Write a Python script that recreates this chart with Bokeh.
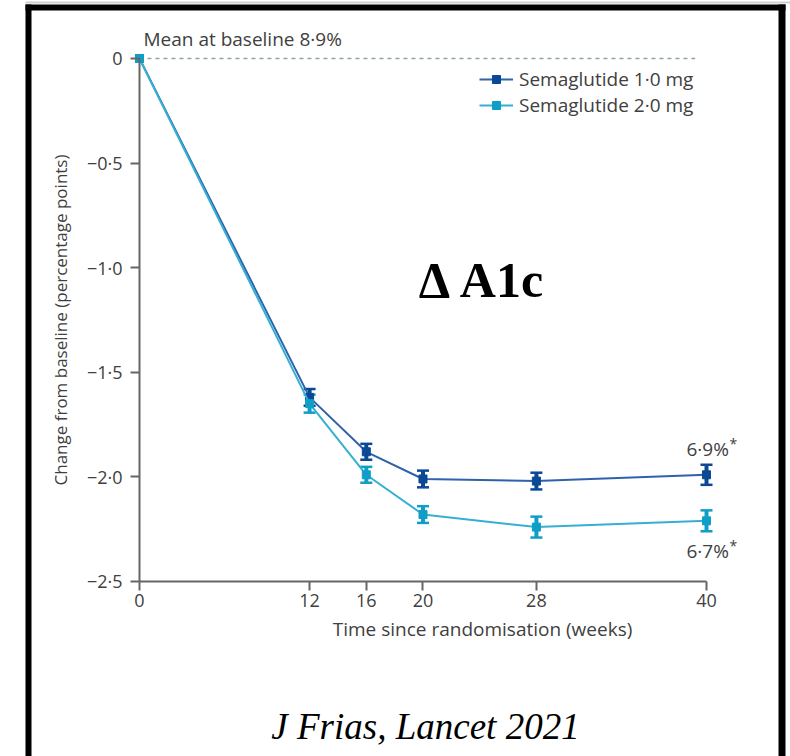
from bokeh.plotting import figure
from bokeh.models import (ColumnDataSource, Range1d, FixedTicker, Whisker, TeeHead,
                          Label, Legend, LegendItem, BoxAnnotation)
from bokeh.embed import file_html
from bokeh.resources import INLINE

# ---------------- data ----------------
weeks = [0, 12, 16, 20, 28, 40]
sema1_mean = [0.0, -1.62, -1.88, -2.01, -2.02, -1.99]
sema1_err = [0.0, 0.040, 0.038, 0.040, 0.040, 0.048]
sema2_mean = [0.0, -1.65, -1.99, -2.18, -2.24, -2.21]
sema2_err = [0.0, 0.043, 0.038, 0.040, 0.050, 0.050]
series_names = ["Semaglutide 1·0 mg", "Semaglutide 2·0 mg"]
end_labels = ["6·9%", "6·7%"]
end_mark = "*"
x_ticks = [0, 12, 16, 20, 28, 40]
y_ticks = [0, -0.5, -1.0, -1.5, -2.0, -2.5]
y_tick_labels = ["0", "−0·5", "−1·0", "−1·5", "−2·0", "−2·5"]
baseline_text = "Mean at baseline 8·9%"
x_title = "Time since randomisation (weeks)"
y_title = "Change from baseline (percentage points)"
big_title = "Δ A1c"
citation = "J Frias, Lancet 2021"

FONT = "Open Sans"
TXT = "#404040"
AX = "#666666"
line_cols = ["#2f62aa", "#35afd2"]
mark_cols = ["#0b4896", "#0f9fc6"]

X0, X1 = 0, 40
Y0, Y1 = -2.5, 0
# the plotting frame fills the whole canvas; axes are pinned at x=0 and y=-2.5
p = figure(width=790, height=756, output_backend="svg", toolbar_location=None,
           x_range=Range1d(-9.806, 45.926), y_range=Range1d(-3.3366, 0.2772),
           min_border=0, min_border_left=0, min_border_right=0,
           min_border_top=0, min_border_bottom=0)
p.outline_line_color = None
p.grid.visible = False
p.background_fill_color = "white"
p.border_fill_color = "white"

# axes
xa = p.xaxis[0]
xa.ticker = FixedTicker(ticks=x_ticks)
xa.bounds = (X0, X1)
xa.fixed_location = Y0
ya = p.yaxis[0]
ya.ticker = FixedTicker(ticks=y_ticks)
ya.bounds = (Y0, Y1)
ya.fixed_location = X0
ya.major_label_overrides = {float(t): s for t, s in zip(y_ticks, y_tick_labels)}
ya.axis_label = y_title
for ax in (xa, ya):
    ax.axis_line_color = AX
    ax.axis_line_width = 2
    ax.major_tick_line_color = AX
    ax.major_tick_line_width = 2
    ax.major_tick_out = 9
    ax.major_tick_in = 0
    ax.minor_tick_line_color = None
    ax.major_label_text_font = FONT
    ax.major_label_text_font_size = "18px"
    ax.major_label_text_color = TXT
    ax.axis_label_text_font = FONT
    ax.axis_label_text_font_size = "17px"
    ax.axis_label_text_font_style = "normal"
    ax.axis_label_text_color = TXT
xa.major_label_standoff = 4
ya.major_label_standoff = 8
ya.axis_label_standoff = 12

# baseline dashed line
p.line([0, 39.2], [0, 0], line_color="#8aa4aa", line_width=1.5, line_dash="4 4")

# series
items = []
for mean, err, lc, mc, name in zip([sema1_mean, sema2_mean], [sema1_err, sema2_err],
                                    line_cols, mark_cols, series_names):
    src = ColumnDataSource(dict(x=weeks, y=mean))
    r_line = p.line("x", "y", source=src, line_color=lc, line_width=2)
    wx = [w for w, e in zip(weeks, err) if e > 0]
    wu = [m + e for m, e in zip(mean, err) if e > 0]
    wl = [m - e for m, e in zip(mean, err) if e > 0]
    wsrc = ColumnDataSource(dict(x=wx, upper=wu, lower=wl))
    wh = Whisker(base="x", upper="upper", lower="lower", source=wsrc,
                 line_color=mc, line_width=4,
                 upper_head=TeeHead(size=12, line_color=mc, line_width=2.5),
                 lower_head=TeeHead(size=12, line_color=mc, line_width=2.5))
    p.add_layout(wh)
    r_mark = p.scatter("x", "y", source=src, marker="square", size=8,
                       fill_color=mc, line_color=mc)
    items.append(LegendItem(label=name, renderers=[r_line, r_mark]))

legend = Legend(items=items, location=(479, 638), margin=0, padding=0,
                spacing=0, glyph_width=34, glyph_height=20, label_standoff=6,
                border_line_color=None, background_fill_alpha=0,
                label_text_font=FONT, label_text_font_size="19px",
                label_text_color=TXT)
p.add_layout(legend)

# text annotations
def lab(**kw):
    base = dict(text_font=FONT, text_font_size="18px", text_color=TXT,
                text_baseline="alphabetic")
    base.update(kw)
    p.add_layout(Label(**base))

lab(x=weeks[0], y=sema1_mean[0], x_offset=4, y_offset=19, text=baseline_text,
    text_font_size="19px")
lab(x=weeks[-1], y=sema1_mean[-1], x_offset=-20, y_offset=26, text=end_labels[0],
    text_font_size="19px")
lab(x=weeks[-1], y=sema1_mean[-1], x_offset=23, y_offset=31, text=end_mark,
    text_font_size="14px")
lab(x=weeks[-1], y=sema2_mean[-1], x_offset=-20, y_offset=-30, text=end_labels[1],
    text_font_size="19px")
lab(x=weeks[-1], y=sema2_mean[-1], x_offset=23, y_offset=-25, text=end_mark,
    text_font_size="14px")
lab(x=24.2, y=Y0, y_offset=-48, text=x_title, text_align="center", text_font_size="19px")
lab(x=19.7, y=-1.152, y_offset=19, text=big_title, text_font="Liberation Serif",
    text_font_style="bold", text_font_size="50px", text_color="black")
lab(x=9.3, y=Y0, y_offset=-145, text=citation, text_font="Liberation Serif",
    text_font_style="italic", text_font_size="37px", text_color="black")

# outer page border
for l, r, t, b, c in [(25, 790, 1, 3, "#cfcfcf"), (25, 31, 4, 760, "black"),
                      (25, 785, 4, 10, "black"), (778, 785, 4, 760, "black")]:
    p.add_layout(BoxAnnotation(left=l, right=r, top=t, bottom=b,
                               left_units="canvas", right_units="canvas",
                               top_units="canvas", bottom_units="canvas",
                               fill_color=c, fill_alpha=1, line_color=None,
                               level="overlay"))

open("out.html", "w").write(file_html(p, INLINE))
